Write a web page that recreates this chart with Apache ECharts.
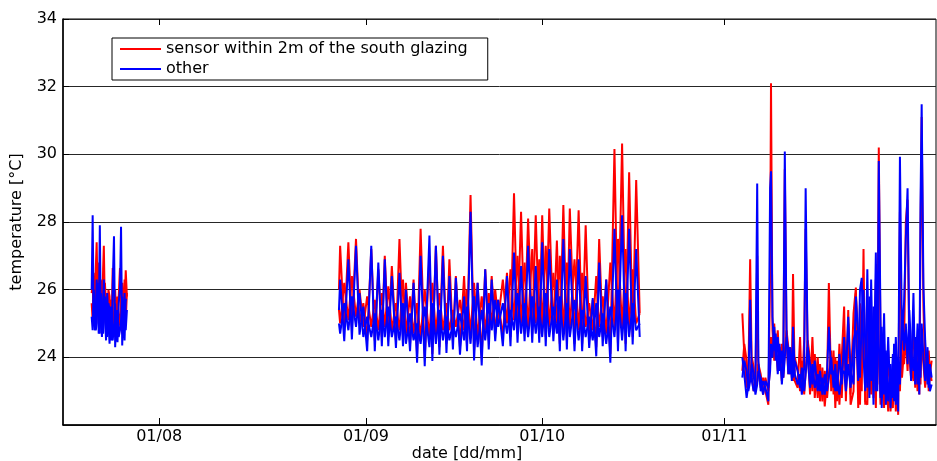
<!DOCTYPE html>
<html>
<head>
<meta charset="utf-8">
<script src="https://cdn.jsdelivr.net/npm/echarts@6/dist/echarts.min.js"></script>
<style>
  html, body { margin: 0; padding: 0; background: #fff; }
  #chart { width: 937px; height: 461px; }
</style>
</head>
<body>
<div id="chart"></div>
<script>
// x values are days counted from 01/07, as laid out on the original date axis
const tickDays = [26.8, 62, 92, 123];
const tickLabels = ['01/08', '01/09', '01/10', '01/11'];
const seriesNames = ['sensor within 2m of the south glazing', 'other'];

// late July block (two sensors per group)
const seg1Days = [15.3, 15.47, 15.65, 15.85, 16.0, 16.15, 16.35, 16.5, 16.69, 16.85, 17.05, 17.25, 17.37, 17.55, 17.75, 17.95,
  18.15, 18.35, 18.55, 18.7, 18.88, 19.1, 19.3, 19.5, 19.7, 19.9, 20.12, 20.3, 20.5, 20.7, 20.9, 21.1, 21.3];
const seg1Red = [25.9, 26.2, 25.2, 24.9, 26.6, 27.4, 25.4, 25.0, 26.1, 25.2, 24.9, 26.6, 27.3, 25.4, 24.9, 25.9,
  25.2, 24.8, 25.7, 25.0, 26.64, 25.8, 24.6, 25.3, 24.8, 25.8, 26.64, 25.7, 24.7, 25.3, 25.5, 26.57, 25.8];
const seg1Blue = [26.0, 28.2, 25.0, 24.8, 25.3, 26.3, 25.6, 24.7, 27.9, 25.1, 24.6, 25.7, 26.3, 25.3, 24.5, 25.9,
  25.0, 24.4, 25.5, 24.5, 26.1, 27.58, 24.3, 25.2, 24.45, 25.6, 26.0, 27.86, 24.35, 25.5, 24.5, 25.7, 25.7];
const seg1Red2 = [25.6, 25.1, 26.5, 26.0, 25.1, 25.4, 26.8, 25.8, 25.0, 26.3, 26.0, 25.0, 25.4, 26.2, 25.6, 24.9,
  26.0, 25.8, 24.9, 25.7, 24.8, 25.3, 26.0, 25.0, 25.8, 24.9, 25.2, 25.5, 26.2, 24.9, 26.3, 25.1, 25.9];
const seg1Blue2 = [25.2, 24.8, 26.0, 25.6, 24.8, 25.0, 26.2, 25.4, 24.7, 25.9, 25.6, 24.7, 25.0, 25.8, 25.2, 24.6,
  25.6, 25.4, 24.6, 25.3, 24.5, 24.9, 25.6, 24.7, 25.4, 24.6, 24.8, 25.1, 25.8, 24.6, 25.9, 24.8, 25.4];

// September to early October block
const seg2Days = [57.4, 57.6, 58.3, 59.0, 59.6, 60.3, 60.9, 61.55, 62.2, 62.9, 63.5, 64.1, 64.7, 65.2, 65.8, 66.4,
  67.1, 67.7, 68.3, 68.8, 69.5, 70.1, 70.7, 71.3, 72.0, 72.8, 73.3, 73.9, 74.5, 75.1, 75.7, 76.2,
  76.8, 77.3, 78.0, 78.7, 79.2, 79.8, 80.4, 81.0, 81.7, 82.3, 82.9, 83.4, 84.0, 84.5, 85.3, 86.0,
  86.6, 87.2, 87.8, 88.4, 89.0, 89.6, 90.3, 90.9, 91.5, 92.0, 92.6, 93.2, 93.9, 94.5, 95.0, 95.6,
  96.2, 96.7, 97.5, 98.2, 98.8, 99.4, 100.0, 100.6, 101.2, 101.7, 102.3, 102.9, 103.6, 104.3, 104.9, 105.6,
  106.2, 106.8, 107.4, 108.0, 108.6];
const seg2Red = [26.0, 27.3, 24.8, 27.4, 24.9, 27.5, 25.0, 25.6, 24.5, 27.2, 24.5, 26.6, 24.6, 27.0, 24.6, 26.7,
  24.5, 27.5, 24.6, 26.2, 24.4, 26.3, 24.1, 27.8, 24.0, 27.0, 24.1, 27.3, 24.3, 27.3, 24.4, 26.9,
  24.5, 26.4, 24.3, 26.4, 24.4, 28.8, 24.2, 26.2, 24.0, 26.6, 24.5, 26.4, 24.7, 25.7, 24.6, 26.5,
  24.6, 28.85, 24.7, 28.3, 24.7, 28.1, 24.7, 28.2, 24.7, 28.2, 24.6, 28.4, 24.7, 27.45, 24.4, 28.5,
  24.5, 28.4, 24.4, 28.35, 24.4, 27.9, 24.5, 25.7, 24.3, 27.5, 24.6, 26.3, 24.1, 30.16, 24.4, 30.32,
  24.4, 29.47, 24.6, 29.24, 25.3];
const seg2Blue = [25.4, 26.3, 24.48, 26.9, 24.53, 27.3, 24.67, 25.5, 24.18, 27.3, 24.18, 26.8, 24.33, 26.9, 24.33, 26.4,
  24.28, 26.5, 24.33, 26.0, 24.18, 26.2, 23.84, 27.0, 23.74, 27.6, 23.89, 27.3, 24.08, 27.0, 24.13, 26.4,
  24.23, 26.35, 24.08, 25.8, 24.18, 28.3, 23.91, 26.2, 23.76, 26.6, 24.23, 26.3, 24.48, 25.7, 24.33, 26.4,
  24.33, 27.1, 24.43, 26.7, 24.48, 27.3, 24.43, 26.7, 24.43, 27.4, 24.33, 27.2, 24.48, 26.3, 24.18, 27.5,
  24.23, 27.2, 24.18, 26.9, 24.18, 26.4, 24.28, 25.75, 24.03, 26.8, 24.33, 26.3, 23.84, 27.8, 24.18, 28.2,
  24.18, 27.8, 24.38, 27.2, 24.6];
const seg2Red2 = [25.4, 25.0, 26.2, 25.1, 26.4, 25.2, 26.0, 24.9, 25.8, 24.9, 25.7, 24.8, 25.9, 24.9, 26.1, 24.8,
  25.6, 24.8, 26.3, 24.7, 25.8, 24.7, 25.6, 24.6, 26.0, 24.6, 26.2, 24.7, 25.9, 24.8, 25.6, 24.8,
  25.4, 24.9, 25.7, 24.8, 26.0, 24.7, 26.2, 24.6, 25.8, 24.8, 25.9, 25.0, 26.0, 25.1, 26.3, 25.0,
  26.6, 25.1, 27.0, 25.0, 26.8, 24.9, 27.2, 25.0, 26.9, 24.9, 27.3, 24.9, 26.5, 25.0, 27.0, 24.8,
  26.8, 24.9, 26.9, 24.8, 26.5, 24.9, 25.6, 24.8, 26.4, 24.9, 25.8, 24.7, 26.8, 24.9, 27.5, 24.8,
  27.2, 24.9, 26.6, 25.0, 25.3];
const seg2Blue2 = [25.0, 24.7, 25.6, 24.8, 25.8, 24.9, 25.9, 24.6, 25.2, 24.6, 25.3, 24.5, 25.4, 24.6, 25.5, 24.6,
  25.2, 24.5, 25.6, 24.4, 25.3, 24.5, 25.0, 24.4, 25.5, 24.3, 25.6, 24.4, 25.4, 24.5, 25.2, 24.5,
  25.0, 24.6, 25.3, 24.5, 25.5, 24.4, 25.8, 24.3, 25.4, 24.5, 25.6, 24.8, 25.7, 24.9, 25.6, 24.7,
  25.4, 24.8, 25.9, 24.7, 25.6, 24.6, 25.8, 24.7, 25.5, 24.6, 25.9, 24.6, 25.5, 24.7, 25.8, 24.5,
  25.6, 24.6, 25.7, 24.5, 25.4, 24.6, 25.2, 24.5, 25.6, 24.6, 25.3, 24.4, 25.5, 24.6, 26.0, 24.5,
  25.9, 24.6, 25.6, 24.8, 25.0];

// late October to November block
const seg3Days = [126.07, 126.4, 126.8, 127.1, 127.4, 127.7, 128.0, 128.3, 128.6, 128.8, 129.2, 129.6, 130.0, 130.5, 130.8, 130.95,
  131.2, 131.5, 131.75, 132.1, 132.4, 132.8, 133.05, 133.3, 133.6, 133.9, 134.2, 134.5, 134.7, 135.0, 135.5, 135.9,
  136.2, 136.6, 136.85, 137.2, 137.6, 138.0, 138.4, 138.9, 139.3, 139.7, 140.1, 140.5, 140.8, 141.2, 141.6, 141.9,
  142.2, 142.6, 143.0, 143.4, 143.7, 144.1, 144.5, 145.0, 145.4, 145.8, 146.1, 146.4, 146.7, 147.0, 147.35, 147.7,
  148.0, 148.4, 148.8, 149.05, 149.3, 149.6, 149.8, 150.2, 150.5, 150.9, 151.3, 151.7, 151.9, 152.2, 152.6, 152.9,
  153.25, 153.6, 153.9, 154.2, 154.5, 154.8, 155.2, 155.5, 155.9, 156.2, 156.4, 156.6, 156.9, 157.2, 157.6, 157.8,
  158.0, 158.3];
const seg3Red = [25.3, 24.1, 23.1, 23.5, 26.9, 23.4, 23.0, 23.3, 27.0, 23.6, 23.1, 23.4, 23.0, 22.6, 26.5, 32.1,
  24.8, 23.9, 24.5, 23.6, 24.3, 23.3, 24.0, 29.56, 24.5, 23.5, 24.3, 23.4, 26.46, 23.3, 23.1, 24.6,
  23.0, 24.5, 27.8, 24.2, 22.9, 24.6, 22.8, 24.0, 22.7, 23.7, 22.55, 23.4, 26.2, 23.0, 24.2, 22.5,
  23.9, 22.6, 24.0, 25.5, 22.7, 25.0, 22.9, 25.3, 26.06, 22.5, 25.6, 23.0, 27.2, 22.6, 25.0, 23.0,
  25.5, 22.8, 26.3, 23.2, 30.2, 24.3, 22.8, 24.4, 22.6, 24.2, 22.4, 23.5, 22.8, 24.3, 22.3, 28.3,
  23.4, 24.2, 28.0, 28.66, 24.0, 23.4, 25.2, 23.1, 24.5, 22.9, 27.5, 31.1, 25.5, 23.6, 23.4, 24.2,
  23.5, 23.9];
const seg3Blue = [24.0, 23.5, 22.8, 23.2, 25.7, 23.3, 23.0, 23.2, 29.14, 23.9, 23.0, 23.3, 23.1, 22.7, 29.0, 29.5,
  25.2, 24.2, 24.7, 23.5, 24.4, 23.2, 23.9, 30.08, 24.7, 23.5, 24.3, 23.3, 24.9, 23.5, 23.2, 23.5,
  22.9, 23.7, 29.0, 24.0, 23.1, 23.8, 23.1, 23.5, 23.0, 23.4, 22.9, 23.6, 24.9, 23.5, 23.6, 23.0,
  23.4, 22.9, 23.5, 23.6, 23.0, 23.8, 23.1, 24.5, 24.8, 23.3, 26.0, 26.35, 24.0, 23.0, 26.6, 22.8,
  26.3, 22.6, 27.1, 23.0, 29.8, 25.0, 22.5, 25.3, 22.6, 24.6, 22.5, 24.1, 22.7, 24.6, 22.4, 29.93,
  24.5, 25.6, 27.5, 29.0, 24.5, 23.3, 25.9, 23.2, 25.0, 22.9, 28.5, 31.48, 26.1, 24.5, 23.2, 23.8,
  23.0, 23.2];
const seg3Red2 = [23.6, 24.4, 23.9, 23.2, 23.5, 24.0, 23.7, 23.0, 23.3, 23.8, 23.5, 22.9, 23.4, 23.0, 23.8, 24.6,
  24.2, 25.0, 24.0, 24.8, 23.7, 24.4, 23.4, 24.2, 24.8, 24.3, 23.5, 24.2, 23.3, 24.0, 23.6, 23.0,
  23.9, 22.9, 23.6, 24.5, 23.9, 23.0, 24.1, 22.8, 23.8, 22.7, 23.6, 22.8, 23.5, 24.2, 22.9, 24.0,
  22.7, 24.4, 22.8, 24.8, 23.0, 25.4, 22.6, 23.0, 25.9, 24.3, 22.6, 25.0, 25.8, 22.7, 22.6, 25.3,
  22.9, 24.9, 22.5, 25.6, 24.0, 22.6, 24.3, 22.5, 23.8, 22.4, 23.5, 22.5, 24.0, 22.4, 23.6, 23.0,
  25.0, 23.8, 24.6, 23.6, 25.0, 23.9, 23.3, 24.3, 23.0, 24.1, 23.2, 24.6, 23.8, 23.1, 24.0, 23.0,
  23.6, 23.3];
const seg3Blue2 = [23.4, 23.9, 23.6, 23.0, 23.3, 23.8, 23.5, 22.9, 23.2, 23.6, 23.4, 22.9, 23.3, 23.1, 23.6, 24.4,
  24.0, 24.9, 23.9, 24.6, 23.6, 24.2, 23.4, 24.0, 24.6, 24.2, 23.5, 24.0, 23.4, 23.9, 23.6, 23.1,
  23.7, 23.0, 23.5, 24.3, 23.8, 23.2, 23.9, 23.0, 23.6, 22.9, 23.5, 23.0, 23.4, 24.0, 23.1, 23.8,
  23.0, 24.1, 23.2, 24.6, 23.4, 25.2, 23.6, 23.2, 25.8, 24.6, 23.4, 25.2, 26.0, 24.4, 23.1, 25.8,
  23.3, 25.5, 23.0, 26.2, 24.4, 22.8, 24.9, 22.9, 24.2, 22.7, 23.8, 22.8, 24.4, 22.6, 24.0, 23.2,
  25.4, 24.2, 25.0, 23.8, 25.4, 24.2, 23.6, 24.6, 23.2, 24.4, 23.4, 25.0, 24.0, 23.3, 24.3, 23.1,
  23.8, 23.4];

const font = 'DejaVu Sans';
const segments = [
  [seg1Days, seg1Red, seg1Blue, seg1Red2, seg1Blue2],
  [seg2Days, seg2Red, seg2Blue, seg2Red2, seg2Blue2],
  [seg3Days, seg3Red, seg3Blue, seg3Red2, seg3Blue2]
];

function makeLine (name, color, days, temps) {
  return {
    name: name,
    type: 'line',
    data: days.map((d, i) => [d, temps[i]]),
    showSymbol: false,
    symbol: 'none',
    color: color,
    lineStyle: { color: color, width: 2 },
    emphasis: { disabled: true },
    silent: true
  };
}

let series = [];
// red first so the blue group sits on top, as in the original
segments.forEach(s => {
  series.push(makeLine(seriesNames[0], '#ff0000', s[0], s[3]));
  series.push(makeLine(seriesNames[0], '#ff0000', s[0], s[1]));
});
segments.forEach(s => {
  series.push(makeLine(seriesNames[1], '#0000ff', s[0], s[4]));
  series.push(makeLine(seriesNames[1], '#0000ff', s[0], s[2]));
});

const textBase = { fontFamily: font, fontSize: 16, color: '#000' };

const option = {
  animation: false,
  backgroundColor: '#fff',
  grid: {
    left: 63,
    right: 1,
    top: 19,
    bottom: 36,
    show: true,
    borderColor: '#000',
    borderWidth: 1,
    backgroundColor: 'transparent',
    containLabel: false,
    outerBoundsMode: 'none'
  },
  legend: {
    orient: 'vertical',
    left: 112,
    top: 38,
    padding: [3, 20, 3, 8],
    itemGap: 4,
    itemWidth: 41,
    itemHeight: 2,
    icon: 'rect',
    backgroundColor: '#fff',
    borderColor: '#000',
    borderWidth: 1,
    borderRadius: 0,
    selectedMode: false,
    textStyle: Object.assign({ lineHeight: 16 }, textBase),
    data: seriesNames
  },
  xAxis: [
    {
      type: 'value',
      min: 10.42,
      max: 159.04,
      position: 'bottom',
      axisLine: { show: true, onZero: false, lineStyle: { color: '#000', width: 1.5 } },
      axisTick: { show: true, inside: true, length: 7, customValues: tickDays, lineStyle: { color: '#000' } },
      axisLabel: Object.assign({
        customValues: tickDays,
        margin: 4,
        formatter: v => tickLabels[tickDays.indexOf(v)]
      }, textBase),
      splitLine: { show: false },
      name: 'date [dd/mm]',
      nameLocation: 'middle',
      nameGap: 21,
      nameMoveOverlap: false,
      nameTextStyle: Object.assign({ padding: [0, 65, 0, 0] }, textBase)
    },
    {
      type: 'value',
      min: 10.42,
      max: 159.04,
      position: 'top',
      axisLine: { show: false },
      axisTick: { show: true, inside: true, length: 6, customValues: tickDays, lineStyle: { color: '#000' } },
      axisLabel: { show: false },
      splitLine: { show: false }
    }
  ],
  yAxis: {
    type: 'value',
    min: 22,
    max: 34,
    interval: 2,
    axisLine: { show: true, lineStyle: { color: '#000', width: 1.5 } },
    axisTick: { show: true, inside: true, length: 6, lineStyle: { color: '#000' } },
    axisLabel: Object.assign({ showMinLabel: false, margin: 6 }, textBase),
    splitLine: { show: true, lineStyle: { color: '#262626', width: 1 } },
    name: 'temperature [°C]',
    nameLocation: 'middle',
    nameGap: 38,
    nameMoveOverlap: false,
    nameTextStyle: textBase
  },
  series: series
};

const chart = echarts.init(document.getElementById('chart'));
chart.setOption(option);
</script>
</body>
</html>
